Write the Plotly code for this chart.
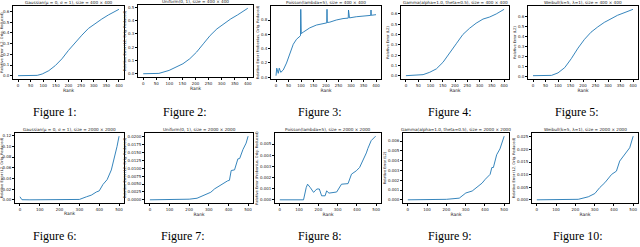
import plotly.graph_objects as go

# ---------------- data ----------------
r1 = [0, 76, 96, 122, 148, 174, 200, 227, 253, 279, 306, 332, 358, 400]
v1 = [0.0, 0.003, 0.016, 0.047, 0.095, 0.158, 0.237, 0.315, 0.379, 0.442, 0.489, 0.530, 0.568, 0.621]

r2 = [0, 60, 99, 125, 152, 178, 204, 230, 256, 282, 308, 335, 361, 400]
v2 = [0.0, 0.0025, 0.025, 0.05, 0.075, 0.1125, 0.1625, 0.225, 0.2875, 0.3375, 0.375, 0.4125, 0.4425, 0.4925]

r3 = [0, 3, 9, 13, 19, 29, 42, 49, 56, 62, 69, 82, 95, 98, 99, 101, 109, 122, 135, 162, 188,
      203, 204, 205, 215, 241, 268, 289, 290, 291, 294, 321, 347, 379, 380, 381, 400]
v3 = [0.02, 0.125, 0.053, 0.125, 0.067, 0.10, 0.197, 0.27, 0.34, 0.41, 0.46, 0.53, 0.58, 0.58, 0.95, 0.61,
      0.63, 0.66, 0.69, 0.73, 0.75, 0.76, 0.95, 0.765, 0.77, 0.80, 0.82, 0.827, 0.94, 0.83, 0.83, 0.846,
      0.856, 0.865, 0.94, 0.866, 0.875]

r4 = [0, 70, 97, 124, 151, 178, 205, 232, 259, 286, 314, 341, 368, 400]
v4 = [0.0, 0.01, 0.033, 0.066, 0.13, 0.215, 0.31, 0.40, 0.46, 0.51, 0.55, 0.57, 0.60, 0.645]

r5 = [0, 74, 100, 127, 153, 180, 206, 232, 259, 285, 312, 338, 364, 400]
v5 = [0.007, 0.01, 0.035, 0.088, 0.177, 0.283, 0.371, 0.442, 0.495, 0.54, 0.576, 0.611, 0.636, 0.671]

r6 = [0, 10, 50, 100, 150, 200, 250, 300, 336, 360, 386, 400, 419, 440, 461, 478, 490, 500]
v6 = [0.006, 0.0005, 0.0003, 0.0003, 0.0003, 0.0003, 0.0005, 0.001, 0.006, 0.009, 0.015, 0.017,
      0.029, 0.038, 0.056, 0.08, 0.10, 0.119]

r7 = [0, 100, 172, 200, 240, 276, 310, 330, 353, 379, 395, 405, 414, 431, 448, 457, 474, 490, 500]
v7 = [0, 0, 0.0001, 0.0002, 0.0005, 0.0014, 0.0024, 0.0035, 0.0044, 0.0055, 0.006, 0.0062, 0.0093,
      0.0095, 0.013, 0.0131, 0.016, 0.018, 0.0202]

r8 = [0, 123, 137, 144, 158, 175, 183, 192, 205, 217, 235, 243, 255, 295, 320, 354, 372, 397, 414,
      432, 449, 457, 474, 497]
v8 = [0, 0, 0.0011, 0.0014, 0.0011, 0.00067, 0.0008, 0.00097, 0.00097, 0.00036, 0.00036, 0.0008,
      0.0006, 0.0007, 0.0014, 0.00145, 0.0023, 0.0026, 0.0029, 0.0035, 0.0042, 0.0046, 0.0053, 0.0057]

r9 = [0, 100, 200, 267, 301, 334, 368, 385, 402, 427, 436, 444, 461, 478, 500]
v9 = [0, 0, 0.00005, 0.00017, 0.0007, 0.0009, 0.0014, 0.0017, 0.0021, 0.0026, 0.0033, 0.0033,
      0.0046, 0.0052, 0.0065]

r10 = [0, 100, 215, 267, 301, 327, 353, 388, 413, 430, 456, 482, 500]
v10 = [0, 0, 0.0002, 0.0012, 0.0025, 0.0049, 0.0068, 0.0101, 0.0114, 0.0154, 0.018, 0.0207, 0.0253]

titles = [
    "Gaussian(μ = 0, σ = 1), size = 400 × 400",
    "Uniform(0, 1), size = 400 × 400",
    "Poisson(lambda=5), size = 400 × 400",
    "Gamma(alpha=1.0, theta=0.5), size = 400 × 400",
    "Weibull(k=5, λ=1), size = 400 × 400",
    "Gaussian(μ = 0, σ = 1), size = 2000 × 2000",
    "Uniform(0, 1), size = 2000 × 2000",
    "Poisson(lambda=5), size = 2000 × 2000",
    "Gamma(alpha=1.0, theta=0.5), size = 2000 × 2000",
    "Weibull(k=5, λ=1), size = 2000 × 2000",
]
ylabels = [
    "Relative Error (L2, Orig. Reduced)",
    "Relative Error (L2, Orig. Reduced)",
    "Relative Error (Frobenius, Orig. Reduced)",
    "Relative Error (L2)",
    "Relative Error (L2)",
    "Relative Error (L2, Orig. Reduced)",
    "Relative Error (L2, Orig. Reduced)",
    "Relative Error (Frobenius, Orig. Reduced)",
    "Relative Error (L2)",
    "Relative Error (L2, Orig. Reduced)",
]
captions = ["Figure 1:", "Figure 2:", "Figure 3:", "Figure 4:", "Figure 5:",
            "Figure 6:", "Figure 7:", "Figure 8:", "Figure 9:", "Figure 10:"]

ranks = [r1, r2, r3, r4, r5, r6, r7, r8, r9, r10]
vals = [v1, v2, v3, v4, v5, v6, v7, v8, v9, v10]

xtick_top = [0, 50, 100, 150, 200, 250, 300, 350, 400]
xtick_bot = [0, 100, 200, 300, 400, 500]
ytick_sets = [
    [0.0, 0.1, 0.2, 0.3, 0.4, 0.5, 0.6],
    [0.0, 0.1, 0.2, 0.3, 0.4, 0.5],
    [0.0, 0.2, 0.4, 0.6, 0.8, 1.0],
    [0.0, 0.1, 0.2, 0.3, 0.4, 0.5, 0.6],
    [0.0, 0.1, 0.2, 0.3, 0.4, 0.5, 0.6],
    [0.0, 0.02, 0.04, 0.06, 0.08, 0.10, 0.12],
    [0.0, 0.0025, 0.005, 0.0075, 0.01, 0.0125, 0.015, 0.0175, 0.02],
    [0.0, 0.001, 0.002, 0.003, 0.004, 0.005, 0.006],
    [0.0, 0.001, 0.002, 0.003, 0.004, 0.005, 0.006],
    [0.0, 0.005, 0.01, 0.015, 0.02, 0.025],
]
ytick_fmt = [".1f", ".1f", ".1f", ".1f", ".1f", ".2f", ".4f", ".3f", ".3f", ".3f"]

# ---------------- layout (pixel boxes) ----------------
W, H = 640, 247
boxes = [
    (13, 124, 6, 79), (138, 253, 5, 77), (271, 381, 6, 79), (401, 509, 6, 79), (528, 638, 6, 79),
    (15, 124, 133, 203), (145, 253, 133, 203), (275, 381, 133, 203), (403, 509, 133, 203), (532, 638, 133, 203),
]
cap_pos = [(55, 112), (185, 112), (320, 112), (450, 112), (577, 112),
           (55, 236), (183, 236), (320, 236), (450, 236), (578, 236)]

BLUE = "#1f77b4"
fig = go.Figure()
annotations = []
for i in range(10):
    n = i + 1
    xa = "x" if n == 1 else f"x{n}"
    ya = "y" if n == 1 else f"y{n}"
    fig.add_trace(go.Scatter(x=ranks[i], y=vals[i], mode="lines",
                             line=dict(color=BLUE, width=0.9),
                             xaxis=xa, yaxis=ya, showlegend=False, hoverinfo="skip"))
    x0, x1, y0, y1 = boxes[i]
    xmax = 400 if i < 5 else 500
    xr = [-0.05 * xmax, 1.05 * xmax]
    lo, hi = min(vals[i]), max(vals[i])
    pad = 0.05 * (hi - lo)
    yr = [lo - pad, hi + pad]
    axcommon = dict(showline=True, linecolor="black", linewidth=0.6, mirror=True,
                    ticks="outside", ticklen=2, tickwidth=0.5, tickcolor="black",
                    showgrid=False, zeroline=False,
                    tickfont=dict(size=4, color="#222", family="DejaVu Sans"))
    fig.layout[f"xaxis{'' if n == 1 else n}"] = dict(
        domain=[x0 / W, x1 / W], anchor=ya, range=xr,
        tickvals=xtick_top if i < 5 else xtick_bot,
        title=dict(text="Rank", font=dict(size=4.5, family="DejaVu Sans", color="#222"), standoff=1),
        **axcommon)
    fig.layout[f"yaxis{'' if n == 1 else n}"] = dict(
        domain=[1 - y1 / H, 1 - y0 / H], anchor=xa, range=yr,
        tickvals=ytick_sets[i], tickformat=ytick_fmt[i],
        title=dict(text=ylabels[i], font=dict(size=3.6, family="DejaVu Sans", color="#222"), standoff=1),
        **axcommon)
    annotations.append(dict(text=titles[i], x=(x0 + x1) / 2 / W, y=1 - y0 / H,
                            xref="paper", yref="paper", xanchor="center", yanchor="bottom",
                            borderpad=0, showarrow=False,
                            font=dict(size=4.2, family="DejaVu Sans", color="#222")))
    cx, cy = cap_pos[i]
    annotations.append(dict(text=captions[i], x=cx / W, y=1 - cy / H, xref="paper", yref="paper",
                            xanchor="center", yanchor="middle", showarrow=False,
                            font=dict(size=12, family="Liberation Serif", color="black")))

fig.update_layout(width=W, height=H, margin=dict(l=0, r=0, t=0, b=0),
                  paper_bgcolor="white", plot_bgcolor="white", annotations=annotations)
fig.write_html("out.html", config={"displayModeBar": False},
               post_script="document.body.style.margin='0';document.body.style.overflow='hidden';")
